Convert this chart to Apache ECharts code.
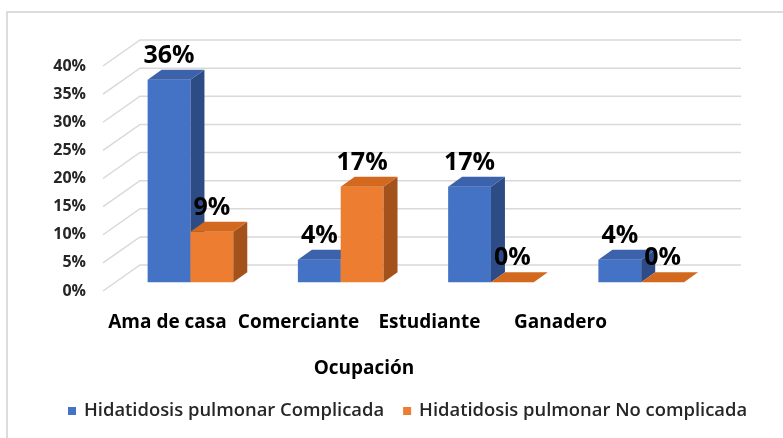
<!DOCTYPE html>
<html>
<head>
<meta charset="utf-8">
<script src="https://cdn.jsdelivr.net/npm/echarts@6/dist/echarts.min.js"></script>
<style>
  html, body { margin: 0; padding: 0; background: #fff; }
  #chart { width: 783px; height: 438px; }
</style>
</head>
<body>
<div id="chart"></div>
<script>
const categories = ['Ama de casa', 'Comerciante', 'Estudiante', 'Ganadero']
const seriesNames = ['Hidatidosis pulmonar Complicada', 'Hidatidosis pulmonar No complicada']
const complicada = [36, 4, 17, 4]
const noComplicada = [9, 17, 0, 0]
const yTicks = [0, 5, 10, 15, 20, 25, 30, 35, 40]

// fake 3D: wall depth and bar depth in pixels
const WALL_DX = 37, WALL_DY = -26
const BAR_DX = 14, BAR_DY = -10
const FONT = 'Open Sans'

const faces = [
    {front: '#4472c4', top: '#3b62ab', side: '#2d4c86'},
    {front: '#ed7d31', top: '#d2691f', side: '#a4521b'}
]

const myChart = echarts.init(document.getElementById('chart'))

const renderWall = (params, api) => {
    const v = api.value(0)
    const cs = params.coordSys
    const y = api.coord([0, v])[1]
    return {
        type: 'polyline',
        shape: {
            points: [
                [cs.x, y],
                [cs.x + WALL_DX, y + WALL_DY],
                [cs.x + cs.width + WALL_DX, y + WALL_DY]
            ]
        },
        style: {stroke: '#d9d9d9', lineWidth: 1.5, fill: null},
        silent: true
    }
}

const renderBar = (idx) => (params, api) => {
    const i = api.value(0)
    const v = api.value(1)
    const base = api.coord([i, 0])
    const top = api.coord([i, v])
    const band = api.size([1, 0])[0]
    const w = band * 0.285
    const c = faces[idx]
    const x0 = base[0] + (idx === 0 ? -w : 0) + WALL_DX / 3
    const x1 = x0 + w
    const yb = base[1] + WALL_DY / 3
    const yt = top[1] + WALL_DY / 3
    const children = []
    if (v > 0) {
        children.push({
            type: 'rect',
            shape: {x: x0, y: yt, width: w, height: yb - yt},
            style: {fill: c.front}
        })
        children.push({
            type: 'polygon',
            shape: {points: [[x1, yb], [x1 + BAR_DX, yb + BAR_DY], [x1 + BAR_DX, yt + BAR_DY], [x1, yt]]},
            style: {fill: c.side}
        })
    }
    children.push({
        type: 'polygon',
        shape: {points: [[x0, yt], [x1, yt], [x1 + BAR_DX, yt + BAR_DY], [x0 + BAR_DX, yt + BAR_DY]]},
        style: {fill: c.top}
    })
    children.push({
        type: 'text',
        style: {
            text: v + '%',
            x: (x0 + x1) / 2,
            y: yt - 24,
            align: 'center',
            verticalAlign: 'middle',
            font: 'bold 25px "' + FONT + '"',
            fill: '#000'
        }
    })
    return {type: 'group', children: children}
}

const option = {
    animation: false,
    backgroundColor: '#fff',
    graphic: [{
        type: 'rect',
        shape: {x: 7, y: 12, width: 820, height: 480},
        style: {fill: null, stroke: '#dcdcdc', lineWidth: 2},
        silent: true
    }],
    legend: {
        data: seriesNames,
        left: 68,
        top: 402,
        padding: 0,
        icon: 'rect',
        itemWidth: 8,
        itemHeight: 8,
        itemGap: 19,
        textStyle: {fontFamily: FONT, fontWeight: 600, fontSize: 18.4, color: '#262626', padding: [0, 0, 0, 3]}
    },
    grid: [
        {left: 103, right: 79, top: 66, bottom: 147},
        {left: 102, width: 524, top: 300, height: 1}
    ],
    xAxis: [
        {
            type: 'category',
            data: categories,
            gridIndex: 0,
            axisLine: {show: false},
            axisTick: {show: false},
            axisLabel: {show: false}
        },
        {
            type: 'category',
            data: categories,
            gridIndex: 1,
            axisLine: {show: false},
            axisTick: {show: false},
            axisLabel: {
                interval: 0,
                margin: 12,
                fontFamily: FONT,
                fontWeight: 'bold',
                fontSize: 19,
                color: '#000'
            },
            name: 'Ocupación',
            nameLocation: 'middle',
            nameGap: 58,
            nameTextStyle: {fontFamily: FONT, fontWeight: 'bold', fontSize: 19, color: '#000'}
        }
    ],
    yAxis: [
        {
            type: 'value',
            gridIndex: 0,
            min: 0,
            max: 40,
            interval: 5,
            axisLine: {show: false},
            axisTick: {show: false},
            splitLine: {show: false},
            axisLabel: {
                formatter: '{value}%',
                margin: 17,
                fontFamily: FONT,
                fontWeight: 'bold',
                fontSize: 16,
                color: '#262626'
            }
        },
        {type: 'value', gridIndex: 1, show: false}
    ],
    series: [
        {
            type: 'custom',
            name: 'walls',
            xAxisIndex: 0,
            yAxisIndex: 0,
            clip: false,
            z: 1,
            renderItem: renderWall,
            data: yTicks.map(v => [v]),
            encode: {y: 0}
        },
        {
            type: 'custom',
            name: seriesNames[0],
            xAxisIndex: 0,
            yAxisIndex: 0,
            clip: false,
            z: 2,
            itemStyle: {color: faces[0].front},
            renderItem: renderBar(0),
            data: complicada.map((v, i) => [i, v]),
            encode: {x: 0, y: 1}
        },
        {
            type: 'custom',
            name: seriesNames[1],
            xAxisIndex: 0,
            yAxisIndex: 0,
            clip: false,
            z: 3,
            itemStyle: {color: faces[1].front},
            renderItem: renderBar(1),
            data: noComplicada.map((v, i) => [i, v]),
            encode: {x: 0, y: 1}
        }
    ]
}

option && myChart.setOption(option)
</script>
</body>
</html>
